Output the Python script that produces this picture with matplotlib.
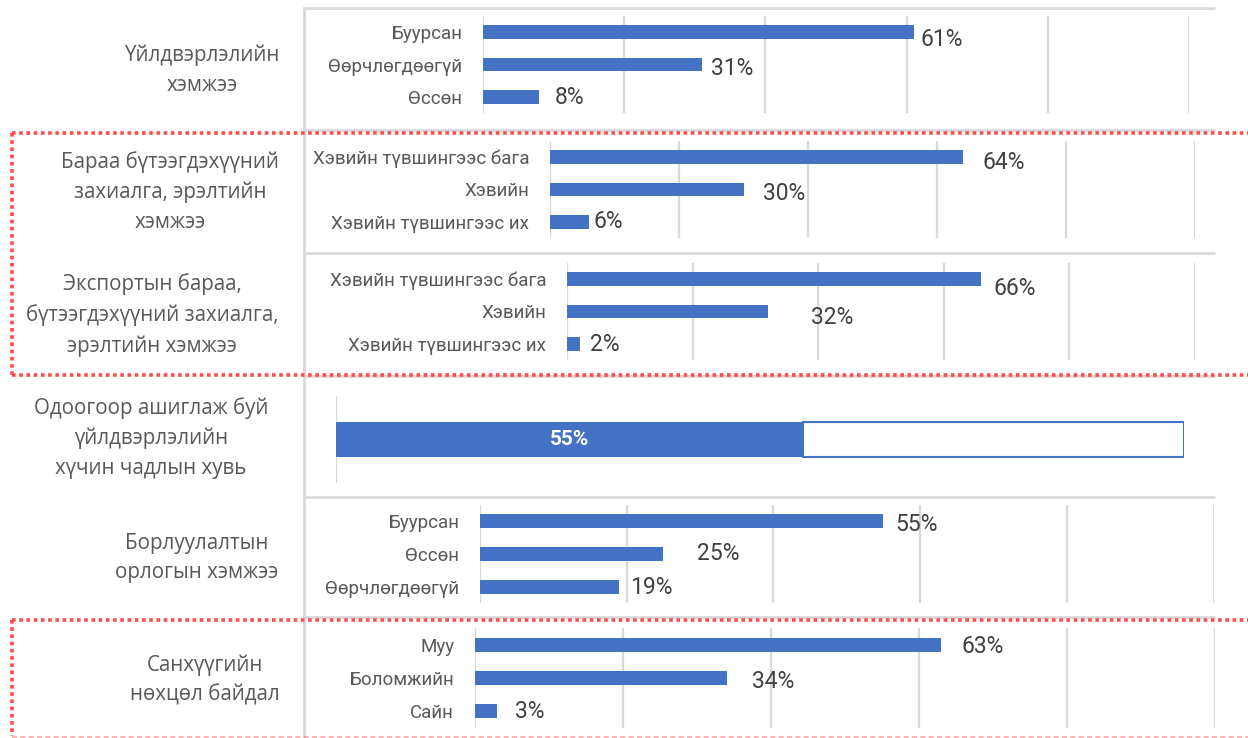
import matplotlib
matplotlib.use("Agg")
import matplotlib.pyplot as plt

# ---- data ----
titles = [
    "Үйлдвэрлэлийн\nхэмжээ",
    "Бараа бүтээгдэхүүний\nзахиалга, эрэлтийн\nхэмжээ",
    "Экспортын бараа,\nбүтээгдэхүүний захиалга,\nэрэлтийн хэмжээ",
    "Одоогоор ашиглаж буй\nүйлдвэрлэлийн\nхүчин чадлын хувь",
    "Борлуулалтын\nорлогын хэмжээ",
    "Санхүүгийн\nнөхцөл байдал",
]

prod_cats = ["Буурсан", "Өөрчлөгдөөгүй", "Өссөн"]
prod_vals = [61, 31, 8]

order_cats = ["Хэвийн түвшингээс бага", "Хэвийн", "Хэвийн түвшингээс их"]
order_vals = [64, 30, 6]

export_cats = ["Хэвийн түвшингээс бага", "Хэвийн", "Хэвийн түвшингээс их"]
export_vals = [66, 32, 2]

capacity_used = 55

sales_cats = ["Буурсан", "Өссөн", "Өөрчлөгдөөгүй"]
sales_vals = [55, 25, 19]

fin_cats = ["Муу", "Боломжийн", "Сайн"]
fin_vals = [63, 34, 3]

# ---- layout (pixels) ----
W, H = 1248, 738
BLUE = "#4472C4"
GRID = "#d9d9d9"
RED = "#ff4d4d"
TXT = "#595959"
VAL = "#404040"

title_pos = [(202, 70), (170, 192), (152, 315), (151, 438), (197, 558), (205, 680)]

# x of 0%, x of 100%, top, bottom
bar_boxes = [
    (483, 1189, 16, 113),
    (550, 1195, 141, 238),
    (567, 1195, 263, 360),
    (480, 1213.5, 505, 603),
    (475, 1215, 628, 728),
]
# manual data label nudges (dx, dy) in pixels, as placed in the source
label_nudges = [
    [(7, 7), (9, 4), (15, 1)],
    [(20, 5), (19, 4), (5, 0)],
    [(12, 9), (43, 6), (10, 1)],
    [(12, 3), (34, 0), (11, 1)],
    [(20, 2), (25, 4), (18, 0)],
]
cap_box = (336, 1184.5, 396, 483)


def frac(x0, x1, top, bot):
    return [x0 / W, 1 - bot / H, (x1 - x0) / W, (bot - top) / H]


fig = plt.figure(figsize=(W / 100, H / 100), dpi=100)

# background layer: separators and row titles
bg = fig.add_axes([0, 0, 1, 1])
bg.set_xlim(0, W)
bg.set_ylim(H, 0)
bg.axis("off")
for y in [8, 130, 253, 376, 497, 617]:
    bg.plot([304, 1215], [y, y], color=GRID, lw=2, solid_capstyle="butt")
bg.plot([304, 304], [8, H], color=GRID, lw=2)

for t, (cx, cy) in zip(titles, title_pos):
    bg.text(cx, cy, t, ha="center", va="center", multialignment="center",
            fontsize=14.8, family="Open Sans", color=TXT, linespacing=1.55)

series = [
    (prod_cats, prod_vals),
    (order_cats, order_vals),
    (export_cats, export_vals),
    (sales_cats, sales_vals),
    (fin_cats, fin_vals),
]

for (cats, vals), box, nudges in zip(series, bar_boxes, label_nudges):
    ax = fig.add_axes(frac(*box))
    pos = list(range(len(cats)))
    ax.barh(pos, vals, height=0.42, color=BLUE, zorder=3)
    ax.set_xlim(0, 100)
    ax.set_ylim(len(cats) - 0.5, -0.5)
    ax.set_xticks([0, 20, 40, 60, 80, 100])
    ax.set_xticklabels([])
    ax.tick_params(axis="x", length=0)
    ax.grid(axis="x", color=GRID, lw=1.6)
    ax.set_axisbelow(True)
    ax.set_yticks(pos)
    ax.set_yticklabels(cats, family="Roboto", fontsize=13.5, color=TXT)
    ax.tick_params(axis="y", length=0, pad=15)
    for s in ax.spines.values():
        s.set_visible(False)
    ax.patch.set_alpha(0)
    for p, v, (dx, dy) in zip(pos, vals, nudges):
        ax.annotate(f"{v}%", xy=(v, p), xytext=(dx, -dy), textcoords="offset pixels",
                    ha="left", va="center", family="Roboto", fontsize=16.5, color=VAL)

# capacity utilisation bar
cax = fig.add_axes(frac(*cap_box))
cax.set_xlim(0, 100)
cax.set_ylim(-0.5, 0.5)
cax.barh([0], [100 - capacity_used], left=[capacity_used], height=0.41,
         color="white", edgecolor=BLUE, lw=1.5, zorder=2)
cax.barh([0], [capacity_used], height=0.41, color=BLUE, zorder=3)
cax.text(capacity_used / 2, 0, f"{capacity_used}%", ha="center", va="center",
         color="white", fontsize=15, fontweight="bold", family="Roboto", zorder=4)
cax.axvline(0, color=GRID, lw=1.6, zorder=1)
cax.axis("off")

# red dotted highlight boxes on top
top = fig.add_axes([0, 0, 1, 1])
top.set_xlim(0, W)
top.set_ylim(H, 0)
top.axis("off")
top.patch.set_alpha(0)
dot = dict(color=RED, lw=2.6, linestyle=(0, (1, 1)), solid_capstyle="butt")
top.plot([12, W], [133, 133], **dot)
top.plot([12, W], [375, 375], **dot)
top.plot([12, 12], [133, 375], **dot)
top.plot([12, W], [620, 620], **dot)
top.plot([12, 12], [620, 736], **dot)
top.plot([12, W], [736.5, 736.5], color=RED, lw=1.2, alpha=0.5, linestyle=(0, (3, 2)))

fig.savefig("out.png", dpi=100)
